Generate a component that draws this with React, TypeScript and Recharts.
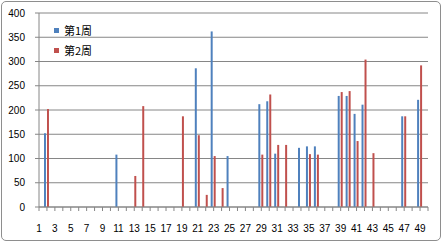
import React from 'react';
import { BarChart, Bar, XAxis, YAxis, CartesianGrid } from 'recharts';

// day index 1..50
const days = [
  1, 2, 3, 4, 5, 6, 7, 8, 9, 10,
  11, 12, 13, 14, 15, 16, 17, 18, 19, 20,
  21, 22, 23, 24, 25, 26, 27, 28, 29, 30,
  31, 32, 33, 34, 35, 36, 37, 38, 39, 40,
  41, 42, 43, 44, 45, 46, 47, 48, 49, 50,
];

const week1 = [
  0, 152, 0, 0, 0, 0, 0, 0, 0, 0,
  108, 0, 0, 0, 0, 0, 0, 0, 0, 0,
  286, 0, 362, 0, 105, 0, 0, 0, 212, 218,
  110, 0, 0, 122, 125, 125, 0, 0, 229, 229,
  192, 211, 0, 0, 0, 0, 187, 0, 221, 0,
];

const week2 = [
  0, 202, 0, 0, 0, 0, 0, 0, 0, 0,
  0, 0, 64, 208, 0, 0, 0, 0, 187, 0,
  148, 25, 105, 39, 0, 0, 0, 0, 108, 232,
  128, 128, 0, 0, 109, 108, 0, 0, 237, 239,
  136, 304, 111, 0, 0, 0, 187, 0, 292, 0,
];

const yTicks = [0, 50, 100, 150, 200, 250, 300, 350, 400];

const seriesNames = ['第1周', '第2周'];
const colors = ['#4F81BD', '#C0504D'];

const data = days.map((d, i) => ({
  day: d,
  w1: week1[i] || null,
  w2: week2[i] || null,
}));

const axisColor = '#868686';
const tickStyle = { fontSize: 10, fill: '#000', fontFamily: '"Liberation Sans", Arial, sans-serif' };

const App: React.FC = () => {
  return (
    <div style={{ position: 'absolute', left: 0, top: 0, width: 444, height: 244, background: '#fff' }}>
      {/* chart frame */}
      <div
        style={{
          position: 'absolute',
          left: 1,
          top: 1,
          width: 438,
          height: 238,
          border: '1px solid #8e8e8e',
          borderRadius: 5,
        }}
      />
      <div style={{ position: 'absolute', left: 0, top: 0 }}>
        <BarChart
          width={444}
          height={244}
          data={data}
          margin={{ top: 13, right: 16, bottom: 7, left: 0 }}
          barSize={2}
          barGap={1}
        >
          <CartesianGrid vertical={false} stroke={axisColor} strokeWidth={1} />
          <XAxis
            dataKey="day"
            type="number"
            domain={[1, 50]}
            ticks={days}
            interval={0}
            tickFormatter={(v: number) => (v % 2 === 1 ? String(v) : '')}
            height={30}
            stroke={axisColor}
            tickSize={4}
            tickMargin={14}
            tick={tickStyle}
          />
          <YAxis
            domain={[0, 400]}
            ticks={yTicks}
            interval={0}
            width={39}
            stroke={axisColor}
            tickSize={4}
            tickMargin={10}
            tick={tickStyle}
          />
          <Bar dataKey="w1" name={seriesNames[0]} fill={colors[0]} isAnimationActive={false} />
          <Bar dataKey="w2" name={seriesNames[1]} fill={colors[1]} isAnimationActive={false} />
        </BarChart>
      </div>
      {/* legend */}
      <div
        style={{
          position: 'absolute',
          left: 54,
          top: 20,
          fontFamily: '"Noto Sans CJK SC", sans-serif',
          fontSize: 11,
          color: '#000',
        }}
      >
        {seriesNames.map((name, i) => (
          <div key={name} style={{ display: 'flex', alignItems: 'center', height: 20 }}>
            <span style={{ width: 5, height: 5, background: colors[i], marginRight: 5 }} />
            <span>{name}</span>
          </div>
        ))}
      </div>
    </div>
  );
};

export default App;
